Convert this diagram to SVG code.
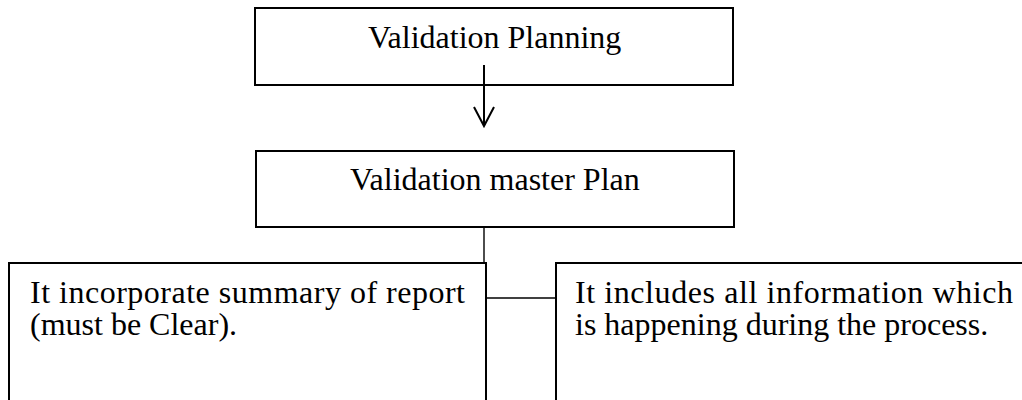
<svg xmlns="http://www.w3.org/2000/svg" width="1022" height="400" viewBox="0 0 1022 400">
<style>
.box{fill:#fff;stroke:#000;stroke-width:2}
.t{font-family:"Liberation Serif","Times New Roman",serif;font-size:32px;fill:#000}
.c{fill:none;stroke:#000;stroke-width:1.4}
.a{fill:none;stroke:#000;stroke-width:2}
</style>
<rect width="1022" height="400" fill="#fff"/>
<g id="node-planning">
<rect class="box" x="255" y="8" width="478" height="77"/>
<text class="t" x="368" y="48">Validation Planning</text>
</g>
<g id="node-vmp">
<rect class="box" x="256" y="151" width="478" height="76"/>
<text class="t" x="350" y="190">Validation master Plan</text>
</g>
<g id="node-summary">
<rect class="box" x="9" y="263" width="477" height="150"/>
<text class="t" x="30" y="303" textLength="435" lengthAdjust="spacing">It incorporate summary of report</text>
<text class="t" x="30" y="335">(must be Clear).</text>
</g>
<g id="node-info">
<rect class="box" x="556" y="263" width="480" height="150"/>
<text class="t" x="575" y="303" textLength="438" lengthAdjust="spacing">It includes all information which</text>
<text class="t" x="575" y="335">is happening during the process.</text>
</g>
<g id="connectors">
<path class="a" d="M484 65 V126 M474 107 L484 126 L494 107"/>
<path class="c" d="M484 227 V263"/>
<path class="c" d="M486 298 H556"/>
</g>
</svg>
